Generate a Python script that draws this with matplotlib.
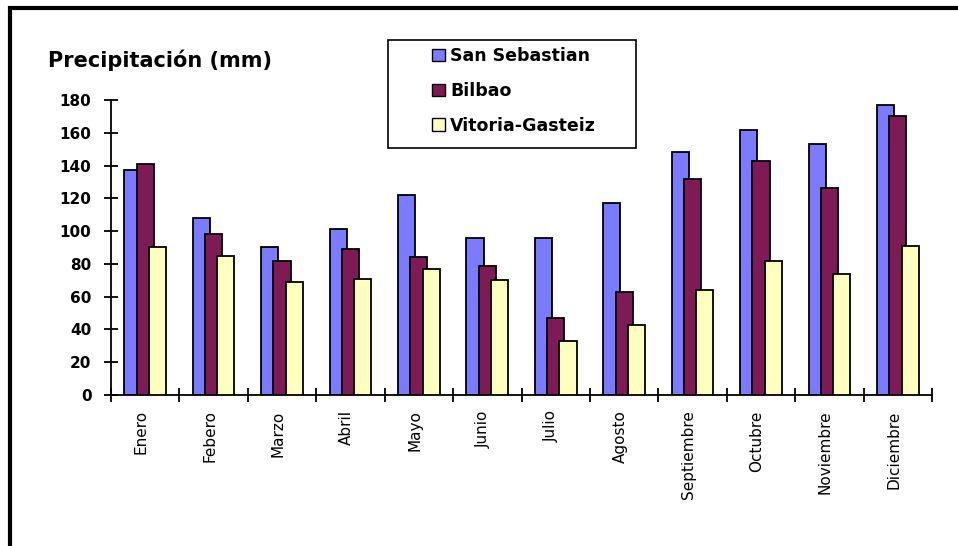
import numpy as np
import matplotlib.pyplot as plt
from matplotlib.patches import Rectangle
from matplotlib.transforms import ScaledTranslation

plt.rcParams['font.family'] = ['DejaVu Sans']

# Monthly rainfall (mm) for the three Basque capitals
meses = ["Enero", "Febero", "Marzo", "Abril", "Mayo", "Junio", "Julio",
         "Agosto", "Septiembre", "Octubre", "Noviembre", "Diciembre"]
san_sebastian = [137, 108, 90, 101, 122, 96, 96, 117, 148, 162, 153, 177]
bilbao = [141, 98, 82, 89, 84, 79, 47, 63, 132, 143, 126, 170]
vitoria = [90, 85, 69, 71, 77, 70, 33, 43, 64, 82, 74, 91]

series = [("San Sebastian", san_sebastian, "#7b7bff"),
          ("Bilbao", bilbao, "#7e1a55"),
          ("Vitoria-Gasteiz", vitoria, "#ffffc0")]

W, H = 958, 546
fig = plt.figure(figsize=(W / 100, H / 100), dpi=100)
ax = fig.add_axes([111 / W, 1 - 395 / H, 821 / W, 295 / H])

x = np.arange(len(meses))
width = 0.25
step = 0.18
for k, (name, vals, col) in enumerate(series):
    ax.bar(x + (k - 1) * step, vals, width, color=col, edgecolor="black",
           linewidth=1.3, label=name, zorder=2 + k)

ax.set_xlim(-0.5, 11.5)
ax.set_ylim(0, 180)
ax.spines["top"].set_visible(False)
ax.spines["right"].set_visible(False)
for s in ("left", "bottom"):
    ax.spines[s].set_linewidth(1.3)

ax.set_yticks(np.arange(0, 181, 20))
ax.tick_params(axis="y", direction="inout", length=10, width=1.3,
               labelsize=11, pad=9)
for t in ax.get_yticklabels():
    t.set_fontweight("bold")

# month names centred, tick marks on the category boundaries
ax.set_xticks(x)
ax.set_xticklabels(meses, rotation=90, fontsize=11)
ax.tick_params(axis="x", which="major", length=0, pad=11)
ax.set_xticks(np.arange(-0.5, 12, 1), minor=True)
ax.tick_params(axis="x", which="minor", direction="inout", length=10,
               width=1.3)
shift = ScaledTranslation(-4 / 100, 0, fig.dpi_scale_trans)
for t in ax.get_xticklabels():
    t.set_transform(t.get_transform() + shift)

fig.text(48 / W, 1 - 60 / H, "Precipitación (mm)", fontsize=15,
         fontweight="bold", va="center", ha="left")

# legend entries, with a separate wide box drawn around them
leg = fig.legend(loc="center left", bbox_to_anchor=(432 / W, 1 - 91 / H),
                 frameon=False, fontsize=12.5,
                 handlelength=0.75, handleheight=0.75, handletextpad=0.3,
                 labelspacing=0.97, borderpad=0, borderaxespad=0)
for t in leg.get_texts():
    t.set_fontweight("bold")
for h in leg.legend_handles:
    h.set_linewidth(1.0)
fig.patches.append(Rectangle((388 / W, 1 - 148 / H), 248 / W, 108 / H,
                             transform=fig.transFigure, fill=False,
                             edgecolor="black", linewidth=1.2))

# heavy frame around the whole chart area
fig.patches.append(Rectangle((10 / W, -0.05), 1.2, 1 - 8 / H + 0.05,
                             transform=fig.transFigure, fill=False,
                             edgecolor="black", linewidth=3))

fig.savefig("out.png", dpi=100)
